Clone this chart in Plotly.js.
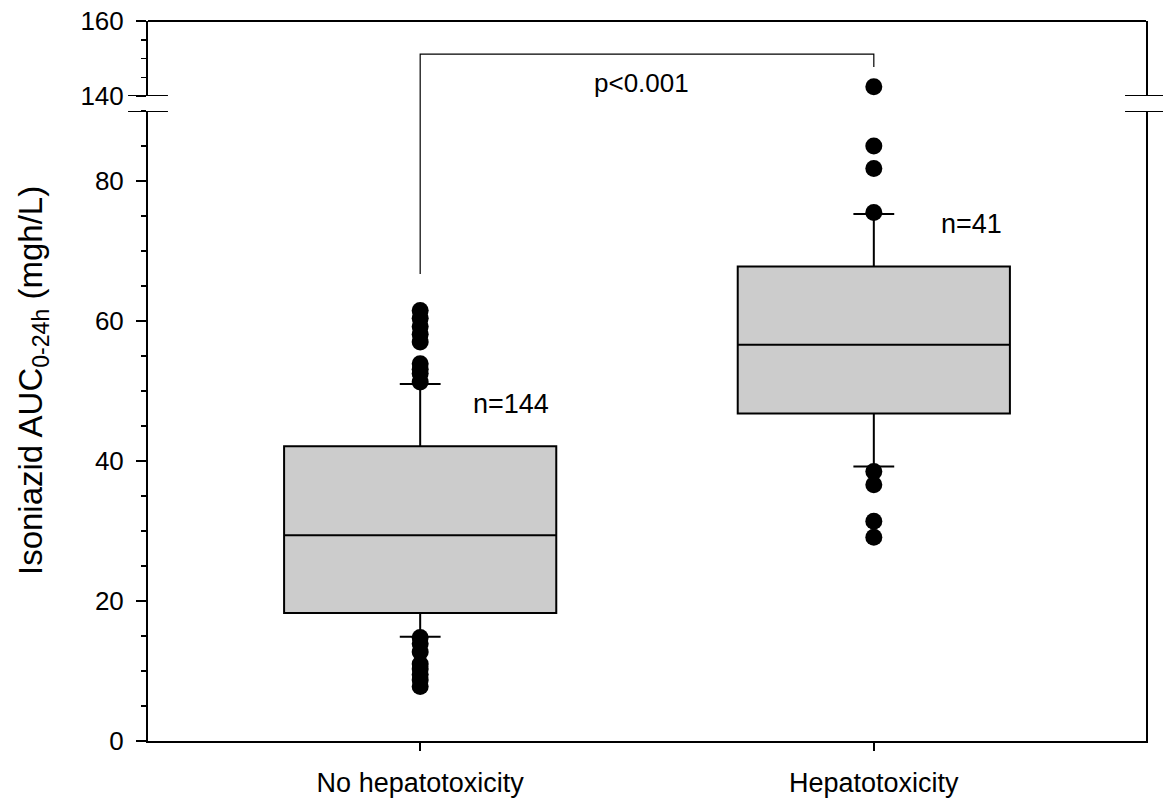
<!DOCTYPE html>
<html>
<head>
<meta charset="utf-8">
<script src="https://cdn.plot.ly/plotly-3.0.1.min.js"></script>
<style>html,body{margin:0;padding:0;background:#fff;}#chart{width:1163px;height:805px;}</style>
</head>
<body>
<div id="chart"></div>
<script>
// ---- data ----
const categories = ["No hepatotoxicity", "Hepatotoxicity"];
const groupN = ["n=144", "n=41"];
const q1 = [18.3, 46.8];
const median = [29.4, 56.6];
const q3 = [42.1, 67.8];
const lowerWhisker = [14.9, 39.2];
const upperWhisker = [51.0, 75.3];
const outliersNoHep = [61.5, 60.4, 59.2, 58.1, 57.0, 53.9, 53.1, 52.5, 51.3,
                       14.8, 13.9, 12.7, 11.0, 10.3, 9.5, 8.7, 7.8];
const outliersHep = [142.5, 85.0, 81.8, 75.5, 38.5, 36.6, 31.4, 29.1];
const pText = "p<0.001";
const breakLow = 90, breakHigh = 140;

const FONT = "Liberation Sans, Arial, sans-serif";
const traces = [];
categories.forEach((c, i) => {
  traces.push({
    type: "box", x: [i], q1: [q1[i]], median: [median[i]], q3: [q3[i]],
    lowerfence: [lowerWhisker[i]], upperfence: [upperWhisker[i]],
    width: 0.6, whiskerwidth: 0.15, boxpoints: false,
    fillcolor: "#cccccc", line: {color: "#000", width: 2},
    xaxis: "x", yaxis: "y", showlegend: false, hoverinfo: "skip"
  });
});
[outliersNoHep, outliersHep].forEach((arr, i) => {
  const low = arr.filter(v => v <= breakLow);
  const high = arr.filter(v => v >= breakHigh);
  const mk = {color: "#000", size: 17};
  traces.push({type: "scatter", mode: "markers", x: low.map(() => i), y: low,
    marker: mk, xaxis: "x", yaxis: "y", showlegend: false, cliponaxis: false});
  if (high.length) traces.push({type: "scatter", mode: "markers", x: high.map(() => i), y: high,
    marker: mk, xaxis: "x", yaxis: "y2", showlegend: false, cliponaxis: false});
});

const axisCommon = {
  showline: true, linecolor: "#000", linewidth: 2, mirror: true,
  ticks: "outside", ticklen: 10, tickwidth: 1.5, tickcolor: "#000",
  ticklabelstandoff: 7,
  showgrid: false, zeroline: false, dtick: 20, tick0: 0,
  tickfont: {family: FONT, size: 26, color: "#000"},
  minor: {dtick: 5, ticks: "outside", ticklen: 5, tickwidth: 1.5, tickcolor: "#000", showgrid: false}
};

const brk = (xp0, xp1, yref, yv) => ({type: "line", xref: "paper", yref: yref,
  x0: xp0, x1: xp1, y0: yv, y1: yv, line: {color: "#000", width: 2}});

const layout = {
  width: 1163, height: 805,
  margin: {l: 148, r: 17, t: 21, b: 64},
  paper_bgcolor: "#fff", plot_bgcolor: "#fff",
  font: {family: FONT, size: 26, color: "#000"},
  xaxis: {range: [-0.6, 1.6], tickvals: [0, 1], ticktext: categories,
    showline: true, linecolor: "#000", linewidth: 2, ticks: "outside", ticklen: 8,
    tickwidth: 1.5, tickcolor: "#000", showgrid: false, zeroline: false,
    ticklabelstandoff: 9,
    tickfont: {family: FONT, size: 27, color: "#000"}},
  yaxis: Object.assign({}, axisCommon, {domain: [0, 0.875], range: [0, breakLow], anchor: "x"}),
  yaxis2: Object.assign({}, axisCommon, {domain: [0.8958, 1], range: [breakHigh, 160], anchor: "x"}),
  shapes: [
    {type: "line", xref: "paper", yref: "paper", x0: 0, x1: 1, y0: 1, y1: 1, line: {color: "#000", width: 2}},
    brk(-0.02, 0.02, "y2", breakHigh), brk(-0.02, 0.02, "y", breakLow),
    brk(0.979, 1.02, "y2", breakHigh), brk(0.979, 1.02, "y", breakLow),
    {type: "path", xref: "x", yref: "paper",
     path: "M 0 0.6486 L 0 0.954 L 1 0.954 L 1 0.936", line: {color: "#000", width: 1.2}}
  ],
  annotations: [
    {xref: "paper", yref: "paper", x: -0.1152, y: 0.5, xanchor: "center", yanchor: "middle",
     textangle: -90, showarrow: false,
     text: "Isoniazid AUC<sub>0-24h</sub> (mgh/L)", font: {family: FONT, size: 33}},
    {xref: "x", yref: "y", x: 0.2, y: 48.2, text: groupN[0], showarrow: false, font: {family: FONT, size: 27}},
    {xref: "x", yref: "y", x: 1.216, y: 73.9, text: groupN[1], showarrow: false, font: {family: FONT, size: 27}},
    {xref: "x", yref: "y2", x: 0.487, y: 143.6, text: pText, showarrow: false, font: {family: FONT, size: 26}}
  ]
};

Plotly.newPlot("chart", traces, layout, {displayModeBar: false, staticPlot: true});
</script>
</body>
</html>
